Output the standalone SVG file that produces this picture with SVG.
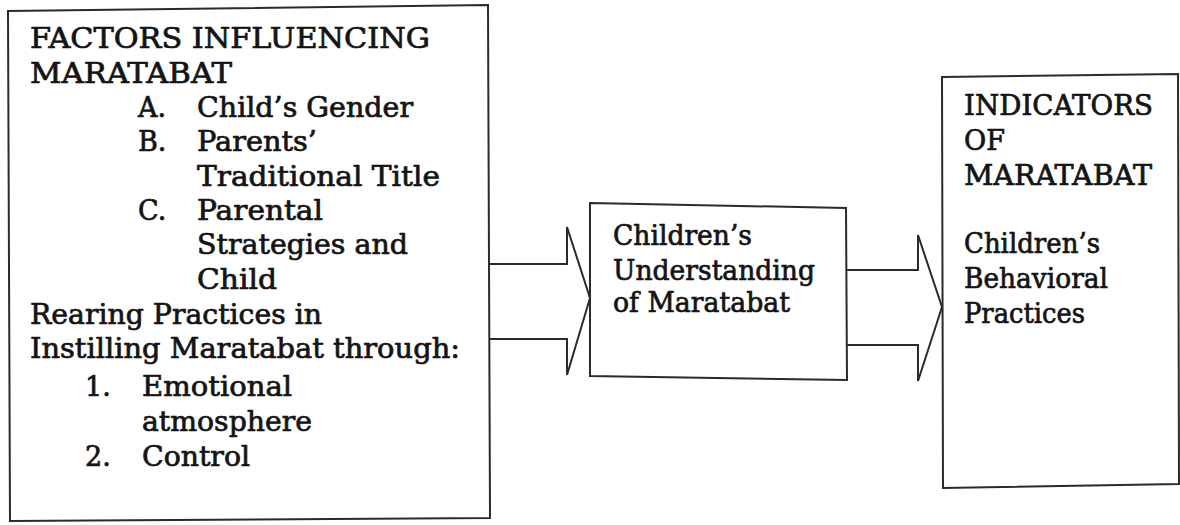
<svg xmlns="http://www.w3.org/2000/svg" width="1180" height="525" viewBox="0 0 1180 525">
<style>
.box{fill:none;stroke:#2b2b2b;stroke-width:2;stroke-linejoin:miter}
.arr{fill:none;stroke:#2b2b2b;stroke-width:2;stroke-linejoin:miter}
text{font-family:"DejaVu Serif","Liberation Serif",serif;font-size:27px;fill:#141414;stroke:#141414;stroke-width:0.7}
</style>
<rect width="1180" height="525" fill="#ffffff"/>
<g id="factors">
<polygon class="box" points="8,11 488,5 490,518 10,521"/>
<text x="30" y="48" textLength="400" lengthAdjust="spacingAndGlyphs">FACTORS INFLUENCING</text>
<text x="30" y="83" textLength="202" lengthAdjust="spacingAndGlyphs">MARATABAT</text>
<text x="138" y="117">A.</text>
<text x="197" y="117" textLength="216" lengthAdjust="spacingAndGlyphs">Child’s Gender</text>
<text x="138" y="151">B.</text>
<text x="197" y="151" textLength="120" lengthAdjust="spacingAndGlyphs">Parents’</text>
<text x="197" y="186" textLength="243" lengthAdjust="spacingAndGlyphs">Traditional Title</text>
<text x="138" y="220">C.</text>
<text x="197" y="220" textLength="126" lengthAdjust="spacingAndGlyphs">Parental</text>
<text x="197" y="254" textLength="211" lengthAdjust="spacingAndGlyphs">Strategies and</text>
<text x="197" y="289" textLength="80" lengthAdjust="spacingAndGlyphs">Child</text>
<text x="30" y="324" textLength="292" lengthAdjust="spacingAndGlyphs">Rearing Practices in</text>
<text x="30" y="358" textLength="430" lengthAdjust="spacingAndGlyphs">Instilling Maratabat through:</text>
<text x="85" y="396">1.</text>
<text x="142" y="396" textLength="150" lengthAdjust="spacingAndGlyphs">Emotional</text>
<text x="142" y="431" textLength="170" lengthAdjust="spacingAndGlyphs">atmosphere</text>
<text x="85" y="466">2.</text>
<text x="142" y="466" textLength="108" lengthAdjust="spacingAndGlyphs">Control</text>
</g>
<g id="understanding">
<polygon class="box" points="590,203 846,208 847,380 590,376"/>
<text x="613" y="245" textLength="139" lengthAdjust="spacingAndGlyphs">Children’s</text>
<text x="613" y="280" textLength="202" lengthAdjust="spacingAndGlyphs">Understanding</text>
<text x="613" y="312" textLength="177" lengthAdjust="spacingAndGlyphs">of Maratabat</text>
</g>
<g id="indicators">
<polygon class="box" points="942,77 1178,74 1179,484 943,488"/>
<text x="964" y="115" textLength="189" lengthAdjust="spacingAndGlyphs">INDICATORS</text>
<text x="964" y="150" textLength="41" lengthAdjust="spacingAndGlyphs">OF</text>
<text x="964" y="185" textLength="188" lengthAdjust="spacingAndGlyphs">MARATABAT</text>
<text x="964" y="253" textLength="136" lengthAdjust="spacingAndGlyphs">Children’s</text>
<text x="964" y="288" textLength="144" lengthAdjust="spacingAndGlyphs">Behavioral</text>
<text x="964" y="323" textLength="121" lengthAdjust="spacingAndGlyphs">Practices</text>
</g>
<g id="connectors">
<polyline class="arr" points="489,264 567,264 567,227 590,298 567,375 567,339 489,339"/>
<polyline class="arr" points="846,270 918,270 918,235 942,307 918,381 918,345 846,345"/>
</g>
</svg>
